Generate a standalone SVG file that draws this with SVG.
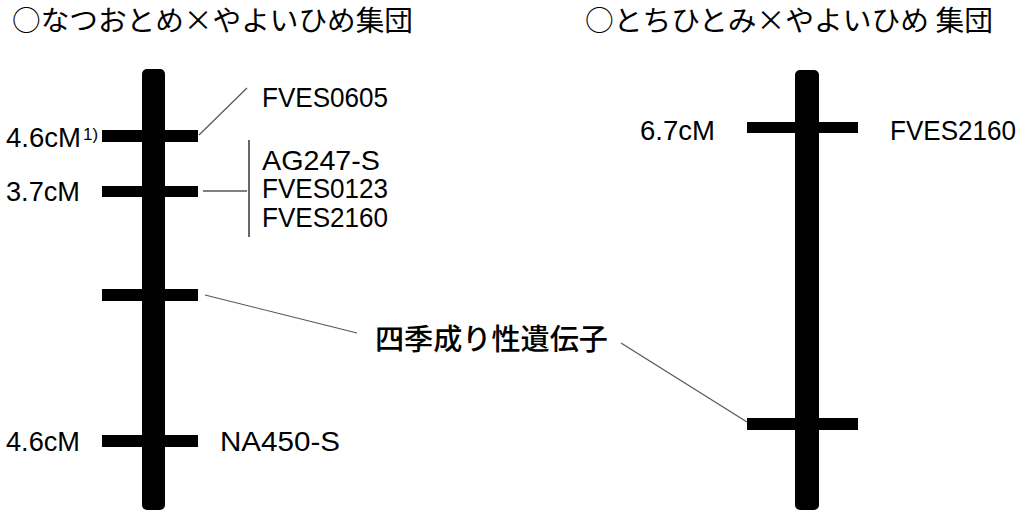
<svg xmlns="http://www.w3.org/2000/svg" width="1027" height="513" viewBox="0 0 1027 513">
<style>
.t{font-family:"Noto Sans CJK JP","Noto Sans",sans-serif;font-size:28px;fill:#000}
.l{font-family:"Liberation Sans",Arial,sans-serif;font-size:28px;fill:#000}
.s{font-family:"Liberation Sans",Arial,sans-serif;font-size:16px;fill:#000}
.bar{fill:#000}
.c{stroke:#555;stroke-width:1.2;fill:none}
.k{stroke:#000;stroke-width:1.2;fill:none}
</style>
<rect width="1027" height="513" fill="#fff"/>
<g id="titles">
<text class="t" x="12" y="31" textLength="401" lengthAdjust="spacingAndGlyphs">○なつおとめ×やよいひめ集団</text>
<text class="t" x="585" y="31" textLength="408" lengthAdjust="spacingAndGlyphs">○とちひとみ×やよいひめ 集団</text>
</g>
<g id="chromosome-left">
<rect class="bar" x="142" y="69" width="23" height="441" rx="5"/>
<rect class="bar" x="102" y="130" width="96" height="12"/>
<rect class="bar" x="102" y="186" width="96" height="11"/>
<rect class="bar" x="102" y="289" width="96" height="12"/>
<rect class="bar" x="102" y="435" width="96" height="12"/>
<text class="l" x="6" y="147" textLength="75" lengthAdjust="spacingAndGlyphs">4.6cM</text>
<text class="s" x="83" y="140" textLength="15" lengthAdjust="spacingAndGlyphs">1)</text>
<text class="l" x="6" y="201" textLength="74" lengthAdjust="spacingAndGlyphs">3.7cM</text>
<text class="l" x="6" y="451" textLength="74" lengthAdjust="spacingAndGlyphs">4.6cM</text>
<text class="l" x="262" y="107" textLength="126" lengthAdjust="spacingAndGlyphs">FVES0605</text>
<text class="l" x="262" y="170" textLength="118" lengthAdjust="spacingAndGlyphs">AG247-S</text>
<text class="l" x="262" y="198" textLength="126" lengthAdjust="spacingAndGlyphs">FVES0123</text>
<text class="l" x="262" y="227" textLength="126" lengthAdjust="spacingAndGlyphs">FVES2160</text>
<text class="l" x="220" y="451" textLength="120" lengthAdjust="spacingAndGlyphs">NA450-S</text>
</g>
<g id="chromosome-right">
<rect class="bar" x="795" y="70" width="24" height="440" rx="5"/>
<rect class="bar" x="747" y="122" width="111" height="11"/>
<rect class="bar" x="747" y="418" width="111" height="12"/>
<text class="l" x="640" y="140" textLength="75" lengthAdjust="spacingAndGlyphs">6.7cM</text>
<text class="l" x="890" y="140" textLength="126" lengthAdjust="spacingAndGlyphs">FVES2160</text>
</g>
<g id="gene-label">
<text class="t" x="375" y="350" textLength="233" lengthAdjust="spacingAndGlyphs" style="font-size:29px;font-weight:500">四季成り性遺伝子</text>
</g>
<g id="connectors">
<line class="c" x1="199" y1="135" x2="247" y2="88"/>
<line class="k" x1="203" y1="191" x2="247" y2="191"/>
<line class="k" x1="249" y1="140" x2="249" y2="237"/>
<line class="c" x1="205" y1="295" x2="357" y2="333"/>
<line class="c" x1="621" y1="343" x2="747" y2="422"/>
</g>
</svg>
